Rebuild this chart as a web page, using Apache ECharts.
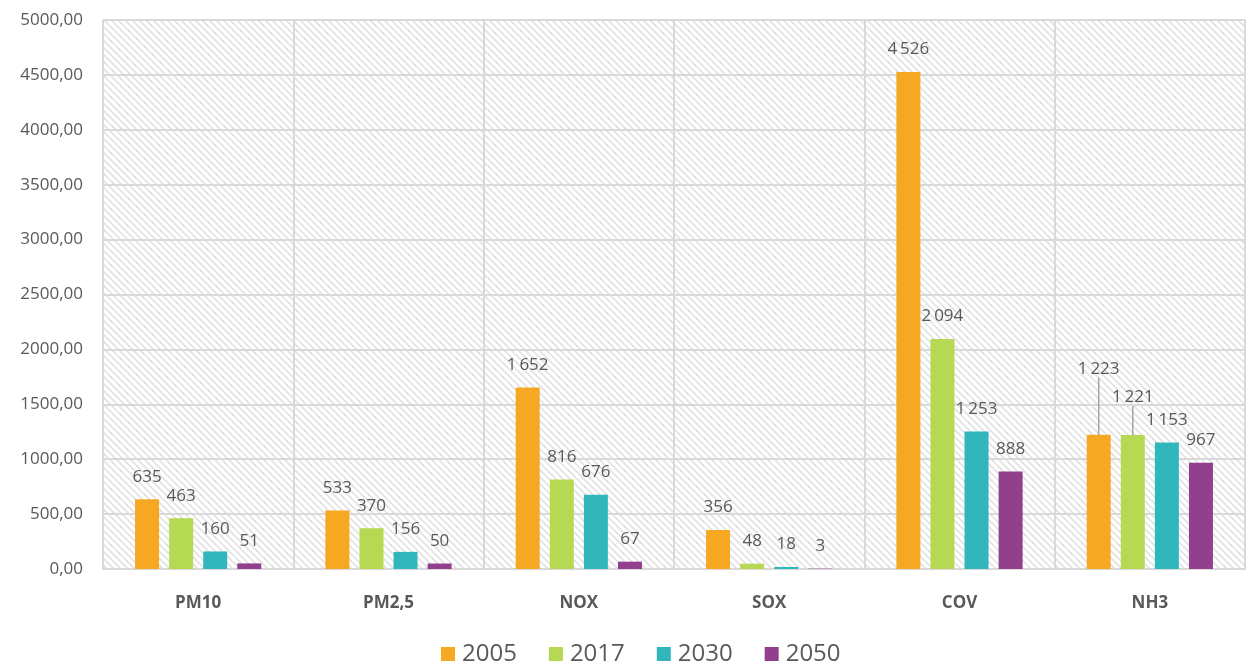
<!DOCTYPE html>
<html>
<head>
<meta charset="utf-8">
<script src="https://cdn.jsdelivr.net/npm/echarts@6/dist/echarts.min.js"></script>
<style>html,body{margin:0;padding:0;background:#fff}#c{width:1250px;height:671px}</style>
</head>
<body>
<div id="c"></div>
<script>
const categories = ['PM10', 'PM2,5', 'NOX', 'SOX', 'COV', 'NH3'];
const years = ['2005', '2017', '2030', '2050'];
const values2005 = [635, 533, 1652, 356, 4526, 1223];
const values2017 = [463, 370, 816, 48, 2094, 1221];
const values2030 = [160, 156, 676, 18, 1253, 1153];
const values2050 = [51, 50, 67, 3, 888, 967];
const yTicks = [0, 500, 1000, 1500, 2000, 2500, 3000, 3500, 4000, 4500, 5000];

const colors = ['#F6A823', '#B5D952', '#31B7BB', '#923F8E'];
const seriesValues = [values2005, values2017, values2030, values2050];

// hatch pattern
const P = 7;
const pc = document.createElement('canvas');
pc.width = P; pc.height = P;
const ctx = pc.getContext('2d');
ctx.fillStyle = '#ffffff';
ctx.fillRect(0, 0, P, P);
ctx.strokeStyle = '#e2e2e2';
ctx.lineWidth = 1.6;
ctx.beginPath();
ctx.moveTo(-1, -1); ctx.lineTo(P + 1, P + 1);
ctx.moveTo(-P - 1, -1); ctx.lineTo(1, P + 1);
ctx.moveTo(P - 1, -1); ctx.lineTo(2 * P + 1, P + 1);
ctx.stroke();

function fmt(v) {
  return String(v).replace(/\B(?=(\d{3})+(?!\d))/g, '\u2009');
}

// label lifts for overlapping NH3 labels (series index -> data index -> dy)
const labelLift = { 0: { 5: -43 }, 1: { 5: -15 } };

const chart = echarts.init(document.getElementById('c'));
chart.setOption({
  animation: false,
  textStyle: { fontFamily: 'Open Sans, Liberation Sans, sans-serif' },
  grid: {
    left: 103, right: 5, top: 20, bottom: 102,
    show: true,
    borderWidth: 0,
    backgroundColor: { image: pc, repeat: 'repeat' }
  },
  legend: {
    bottom: 0,
    left: 436,
    itemWidth: 14, itemHeight: 14, itemGap: 32,
    icon: 'rect',
    textStyle: { fontSize: 24, color: '#595959', padding: [0, 0, 0, 2] },
    data: years
  },
  xAxis: {
    type: 'category',
    data: categories,
    axisLine: { lineStyle: { color: '#d9d9d9', width: 2 } },
    axisTick: { show: false },
    splitLine: { show: true, lineStyle: { color: '#d9d9d9', width: 2 } },
    axisLabel: { fontSize: 17, fontWeight: 'bold', color: '#595959', margin: 26 }
  },
  yAxis: {
    type: 'value',
    min: yTicks[0], max: yTicks[yTicks.length - 1], interval: 500,
    axisLine: { show: false },
    axisTick: { show: false },
    splitLine: { lineStyle: { color: '#d9d9d9', width: 2 } },
    axisLabel: {
      fontSize: 17, color: '#595959', margin: 20,
      formatter: v => v.toFixed(2).replace('.', ',')
    }
  },
  series: years.map((y, i) => ({
    name: y,
    type: 'bar',
    data: seriesValues[i].map((v, j) => {
      const lifted = labelLift[i] && labelLift[i][j];
      return lifted ? { value: v, labelLine: { show: true } } : v;
    }),
    barWidth: 24,
    barGap: '42%',
    itemStyle: { color: colors[i] },
    label: {
      show: true, position: 'top', distance: 14,
      fontSize: 17, color: '#595959',
      formatter: p => fmt(p.value)
    },
    labelLine: { show: false, lineStyle: { color: '#a6a6a6', width: 1.5 } },
    labelLayout: p => {
      const d = labelLift[i] && labelLift[i][p.dataIndex];
      return d ? { dy: d } : {};
    }
  }))
});
</script>
</body>
</html>
